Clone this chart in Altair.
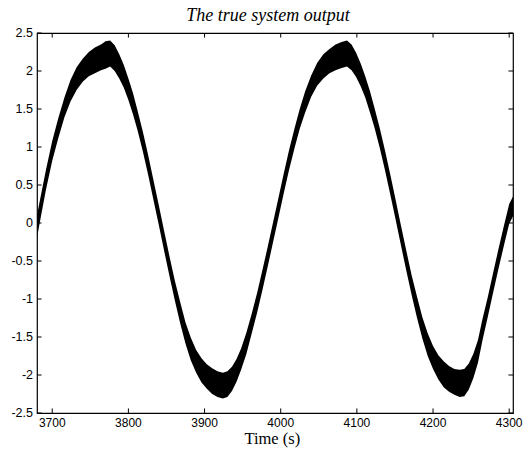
import altair as alt
import pandas as pd

# Time samples (s) and the noisy signal envelope
time = [3679, 3685, 3692, 3700, 3708, 3716, 3724, 3732, 3740, 3748, 3756, 3764, 3770, 3776,
        3782, 3788, 3794, 3800, 3806, 3812, 3819, 3826, 3833, 3840, 3847, 3854, 3861, 3868,
        3875, 3882, 3889, 3896, 3903, 3910, 3917, 3924, 3930, 3936, 3942, 3948, 3955, 3962,
        3969, 3976, 3983, 3990, 3997, 4004, 4011, 4018, 4025, 4032, 4040, 4048, 4056, 4064,
        4072, 4080, 4087, 4093, 4099, 4105, 4111, 4117, 4123, 4130, 4137, 4144, 4151, 4158,
        4165, 4172, 4179, 4186, 4193, 4200, 4207, 4214, 4221, 4228, 4235, 4241, 4247, 4253,
        4259, 4265, 4272, 4279, 4286, 4293, 4300, 4305]
center = [-0.10, 0.22, 0.58, 0.95, 1.25, 1.52, 1.74, 1.90, 2.01, 2.09, 2.14, 2.18, 2.21, 2.23,
          2.17, 2.06, 1.93, 1.76, 1.57, 1.35, 1.07, 0.76, 0.43, 0.10, -0.24, -0.57, -0.89, -1.18,
          -1.45, -1.66, -1.82, -1.94, -2.02, -2.08, -2.12, -2.14, -2.12, -2.05, -1.94, -1.79, -1.58, -1.32,
          -1.05, -0.75, -0.44, -0.12, 0.20, 0.52, 0.83, 1.11, 1.37, 1.59, 1.80, 1.96, 2.06, 2.13,
          2.18, 2.21, 2.23, 2.18, 2.08, 1.95, 1.79, 1.60, 1.39, 1.12, 0.82, 0.50, 0.17, -0.17,
          -0.50, -0.82, -1.11, -1.38, -1.60, -1.77, -1.90, -1.99, -2.05, -2.09, -2.11, -2.10, -2.02, -1.88,
          -1.69, -1.40, -1.10, -0.78, -0.47, -0.17, 0.12, 0.22]
spread = [0.15, 0.14, 0.13, 0.13, 0.13, 0.13, 0.14, 0.15, 0.15, 0.16, 0.17, 0.17, 0.18, 0.17,
          0.17, 0.16, 0.15, 0.14, 0.14, 0.13, 0.13, 0.13, 0.13, 0.13, 0.13, 0.13, 0.13, 0.14,
          0.14, 0.15, 0.15, 0.16, 0.16, 0.17, 0.17, 0.17, 0.17, 0.16, 0.15, 0.14, 0.14, 0.13,
          0.13, 0.13, 0.13, 0.13, 0.13, 0.13, 0.13, 0.13, 0.13, 0.14, 0.14, 0.15, 0.16, 0.16,
          0.17, 0.17, 0.17, 0.17, 0.16, 0.15, 0.14, 0.14, 0.13, 0.13, 0.13, 0.13, 0.13, 0.13,
          0.13, 0.13, 0.14, 0.14, 0.15, 0.15, 0.16, 0.17, 0.17, 0.17, 0.18, 0.18, 0.17, 0.16,
          0.15, 0.14, 0.13, 0.13, 0.13, 0.13, 0.13, 0.13]

x_ticks = [3700, 3800, 3900, 4000, 4100, 4200, 4300]
x_labels = ["3700", "3800", "3900", "4000", "4100", "4200", "4300"]
y_ticks = [-2.5, -2, -1.5, -1, -0.5, 0, 0.5, 1, 1.5, 2, 2.5]
y_labels = ["-2.5", "-2", "-1.5", "-1", "-0.5", "0", "0.5", "1", "1.5", "2", "2.5"]
x_domain = [3680, 4305]
y_domain = [-2.5, 2.5]
x_tick_len = 6      # inward tick length in seconds
y_tick_len = 0.06   # inward tick length in output units
title_text = "The true system output"
x_title = "Time (s)"
x_title_at = 3989   # time value under the centre of the axis title

df = pd.DataFrame({"t": time, "c": center, "s": spread})
df["lo"] = df["c"] - df["s"]
df["hi"] = df["c"] + df["s"]

xs = alt.Scale(domain=x_domain, nice=False, zero=False)
ys = alt.Scale(domain=y_domain, nice=False, zero=False)

W, H = 476, 380

signal = alt.Chart(df).mark_area(color="black", clip=True, interpolate="linear").encode(
    x=alt.X("t:Q", scale=xs, axis=None),
    y=alt.Y("lo:Q", scale=ys, axis=None),
    y2="hi:Q",
)

# tick tables: each tick sits on an edge of the frame (domain ends)
xt = pd.DataFrame({"v": x_ticks, "lab": x_labels,
                   "bot": y_domain[0], "bot2": y_domain[0] + y_tick_len,
                   "top": y_domain[1], "top2": y_domain[1] - y_tick_len})
yt = pd.DataFrame({"v": y_ticks, "lab": y_labels,
                   "lft": x_domain[0], "lft2": x_domain[0] + x_tick_len,
                   "rgt": x_domain[1], "rgt2": x_domain[1] - x_tick_len})
tt = pd.DataFrame({"v": [x_title_at], "bot": [y_domain[0]], "lab": [x_title]})

rule = dict(color="black", strokeWidth=1)
xbot = alt.Chart(xt).mark_rule(**rule).encode(
    x=alt.X("v:Q", scale=xs, axis=None),
    y=alt.Y("bot:Q", scale=ys, axis=None), y2="bot2:Q")
xtop = alt.Chart(xt).mark_rule(**rule).encode(
    x=alt.X("v:Q", scale=xs, axis=None),
    y=alt.Y("top:Q", scale=ys, axis=None), y2="top2:Q")
yleft = alt.Chart(yt).mark_rule(**rule).encode(
    y=alt.Y("v:Q", scale=ys, axis=None),
    x=alt.X("lft:Q", scale=xs, axis=None), x2="lft2:Q")
yright = alt.Chart(yt).mark_rule(**rule).encode(
    y=alt.Y("v:Q", scale=ys, axis=None),
    x=alt.X("rgt:Q", scale=xs, axis=None), x2="rgt2:Q")

xlab = alt.Chart(xt).mark_text(baseline="top", align="center", dy=5,
                               font="Liberation Sans", fontSize=12, color="black").encode(
    x=alt.X("v:Q", scale=xs, axis=None), y=alt.Y("bot:Q", scale=ys, axis=None),
    text=alt.Text("lab:N"))
ylab = alt.Chart(yt).mark_text(baseline="middle", align="right", dx=-4,
                               font="Liberation Sans", fontSize=12.5, color="black").encode(
    y=alt.Y("v:Q", scale=ys, axis=None), x=alt.X("lft:Q", scale=xs, axis=None),
    text=alt.Text("lab:N"))
xttl = alt.Chart(tt).mark_text(font="Liberation Serif", fontSize=16.5, color="black",
                               baseline="alphabetic", align="center", dy=31).encode(
    x=alt.X("v:Q", scale=xs, axis=None), y=alt.Y("bot:Q", scale=ys, axis=None),
    text=alt.Text("lab:N"))

chart = alt.layer(signal, xbot, xtop, yleft, yright, xlab, ylab, xttl).properties(
    width=W, height=H,
    autosize=alt.AutoSizeParams(type="none"),
    padding={"left": 29, "top": 25, "right": 11, "bottom": 37},
    title=alt.TitleParams(title_text, font="Liberation Serif", fontSize=18,
                          fontStyle="italic", fontWeight="normal", color="black",
                          anchor="middle", offset=2, dx=-7),
).configure_view(stroke="black", strokeWidth=1.2)

chart.save("out.html", embed_options={"renderer": "svg", "actions": False})
